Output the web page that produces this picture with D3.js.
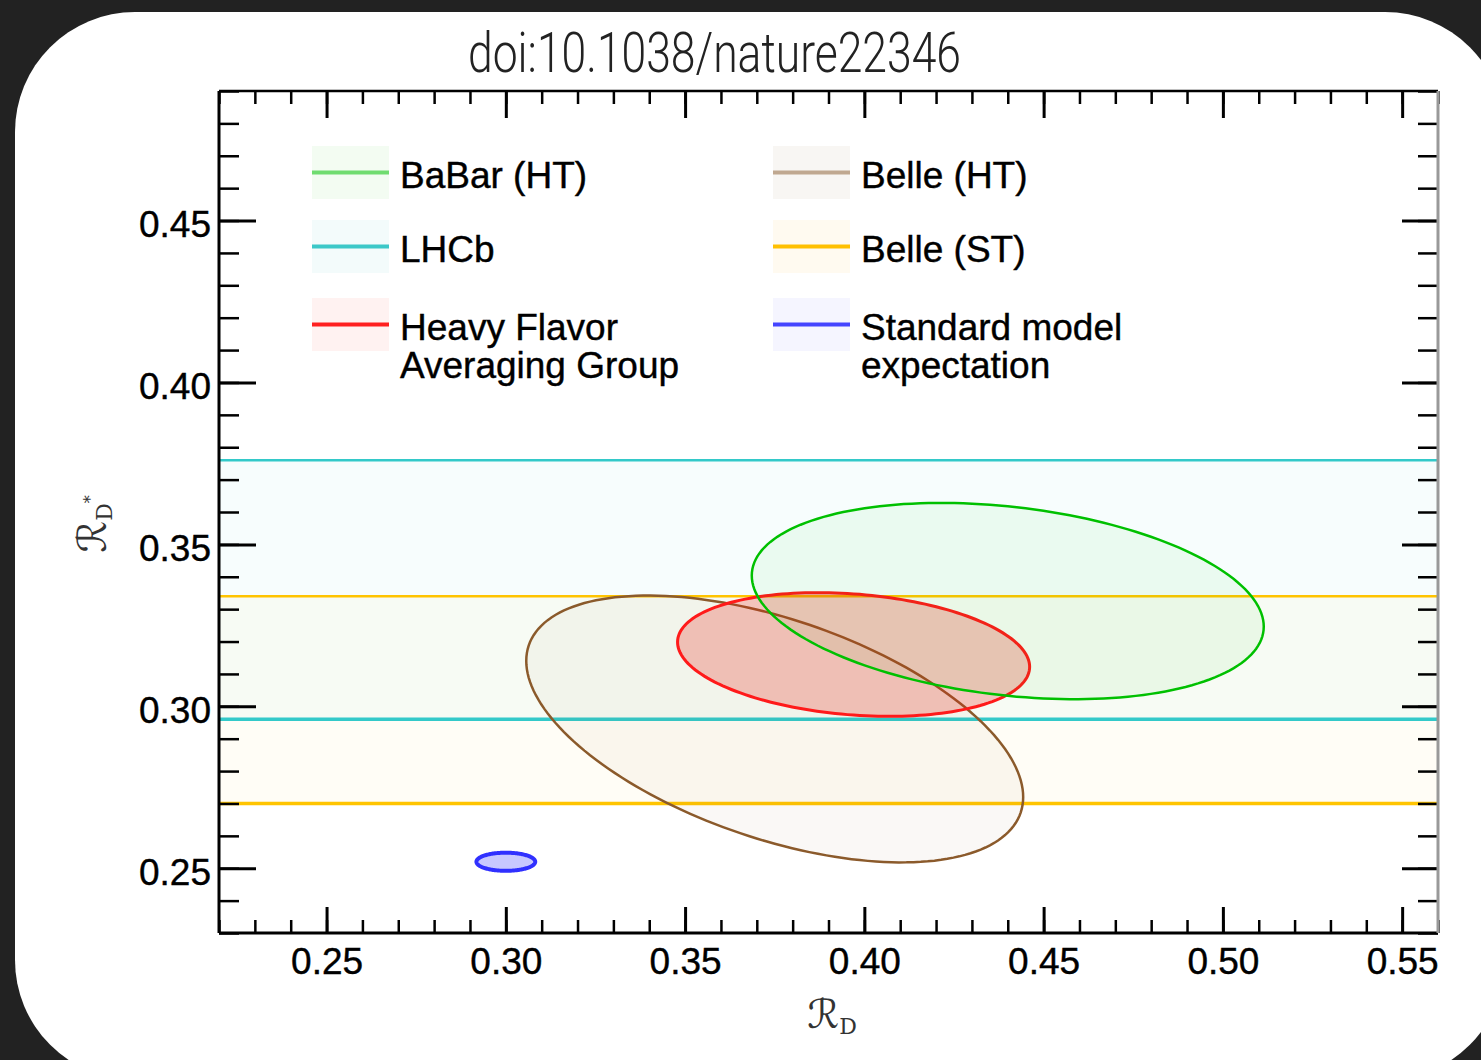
<!DOCTYPE html>
<html>
<head>
<meta charset="utf-8">
<script src="https://cdn.jsdelivr.net/npm/d3@7"></script>
<style>
  html, body { margin: 0; padding: 0; background: #222; }
  svg { display: block; }
  .axis text { font-family: "Liberation Sans", Arial, sans-serif; font-size: 37px; fill: #000; stroke: #000; stroke-width: 0.4px; }
  .legend text { font-family: "Liberation Sans", Arial, sans-serif; font-size: 37px; fill: #000; stroke: #000; stroke-width: 0.4px; }
</style>
</head>
<body>
<div id="chart"></div>
<script>
// ---- data ----
const xTickValues = [0.25, 0.30, 0.35, 0.40, 0.45, 0.50, 0.55];
const yTickValues = [0.25, 0.30, 0.35, 0.40, 0.45];

// horizontal 1-sigma bands (R(D*) only)
const bandNames = ['LHCb', 'Belle (ST)'];
const bandLow = [0.296, 0.270];
const bandHigh = [0.376, 0.334];

// 2D contours: centre, half extents and correlation
const ellipseNames = ['Belle (HT)', 'HFAG', 'BaBar (HT)', 'SM'];
const ellipseRD = [0.375, 0.397, 0.440, 0.300];
const ellipseRDstar = [0.293, 0.316, 0.3325, 0.252];
const ellipseHalfRD = [0.0693, 0.0491, 0.0714, 0.0082];
const ellipseHalfRDstar = [0.0412, 0.0191, 0.0303, 0.0028];
const ellipseRho = [-0.51, -0.20, -0.26, 0.0];

const legendKeys = ['BaBar (HT)', 'LHCb', 'HFAG', 'Belle (HT)', 'Belle (ST)', 'SM'];
const legendLabels = [
  ['BaBar (HT)'], ['LHCb'], ['Heavy Flavor', 'Averaging Group'],
  ['Belle (HT)'], ['Belle (ST)'], ['Standard model', 'expectation'],
];

// ---- styles ----
const styles = {
  'LHCb':       { stroke: '#33c9c9', fill: 'rgba(0,190,190,0.03)', legLine: '#3cc8c8', legFill: '#f3fbfb' },
  'Belle (ST)': { stroke: '#ffc400', fill: 'rgba(255,200,0,0.035)', legLine: '#ffc000', legFill: '#fffaf0' },
  'Belle (HT)': { stroke: '#8b5a2b', fill: 'rgba(139,90,43,0.045)', width: 2.5, legLine: '#c0a890', legFill: '#f8f6f3' },
  'HFAG':       { stroke: '#ff1a1a', fill: 'rgba(230,30,20,0.25)', width: 3, legLine: '#ff2020', legFill: '#fff2f1' },
  'BaBar (HT)': { stroke: '#00c000', fill: 'rgba(0,190,0,0.05)', width: 2.5, legLine: '#70dc70', legFill: '#f3fcf2' },
  'SM':         { stroke: '#3030ff', fill: '#c8c8ff', width: 4, legLine: '#4444ff', legFill: '#f5f5ff' },
};

const W = 1481, H = 1060;
const margin = { top: 91, right: 43, bottom: 127, left: 219 };
const width = W - margin.left - margin.right;
const height = H - margin.top - margin.bottom;

const svg = d3.select('#chart').append('svg')
  .attr('width', W)
  .attr('height', H);

svg.append('rect').attr('width', W).attr('height', H).attr('fill', '#222');
svg.append('rect')
  .attr('x', 15).attr('y', 12)
  .attr('width', 1490).attr('height', 1068)
  .attr('rx', 120).attr('ry', 120)
  .attr('fill', '#fff');

svg.append('text')
  .attr('x', 468).attr('y', 72)
  .attr('textLength', 493)
  .attr('lengthAdjust', 'spacingAndGlyphs')
  .style('font-family', 'Roboto, sans-serif')
  .style('font-weight', 300)
  .style('font-size', '55px')
  .style('fill', '#222')
  .text('doi:10.1038/nature22346');

const x = d3.scaleLinear().domain([0.22, 0.56]).range([0, width]);
const y = d3.scaleLinear().domain([0.23, 0.49]).range([height, 0]);

const g = svg.append('g').attr('transform', `translate(${margin.left},${margin.top})`);

g.append('clipPath').attr('id', 'plot-clip')
  .append('rect').attr('width', width).attr('height', height);

const plot = g.append('g').attr('clip-path', 'url(#plot-clip)');

// bands
const bands = bandNames.map((name, i) => ({ name, lo: bandLow[i], hi: bandHigh[i] }));

plot.selectAll('rect.band')
  .data(bands)
  .join('rect')
  .attr('class', 'band')
  .attr('x', 0)
  .attr('width', width)
  .attr('y', (d) => y(d.hi))
  .attr('height', (d) => y(d.lo) - y(d.hi))
  .attr('fill', (d) => styles[d.name].fill);

const bandEdges = bands.flatMap((d) => [
  { name: d.name, v: d.hi, lower: false },
  { name: d.name, v: d.lo, lower: true },
]);

plot.selectAll('line.band-edge')
  .data(bandEdges)
  .join('line')
  .attr('class', 'band-edge')
  .attr('x1', 0)
  .attr('x2', width)
  .attr('y1', (d) => y(d.v))
  .attr('y2', (d) => y(d.v))
  .attr('stroke', (d) => styles[d.name].stroke)
  .attr('stroke-width', (d) => (d.lower ? 3.5 : 2.5));

// ellipses
const ellipses = ellipseNames.map((name, i) => ({
  name,
  cx: ellipseRD[i],
  cy: ellipseRDstar[i],
  hx: ellipseHalfRD[i],
  hy: ellipseHalfRDstar[i],
  rho: ellipseRho[i],
}));

function contour(e) {
  const s = Math.sqrt(1 - e.rho * e.rho);
  return d3.range(0, 360, 2).map((deg) => {
    const t = (deg * Math.PI) / 180;
    return [
      e.cx + e.hx * Math.cos(t),
      e.cy + e.hy * (e.rho * Math.cos(t) + s * Math.sin(t)),
    ];
  });
}

const line = d3.line()
  .x((d) => x(d[0]))
  .y((d) => y(d[1]))
  .curve(d3.curveLinearClosed);

plot.selectAll('path.contour')
  .data(ellipses)
  .join('path')
  .attr('class', 'contour')
  .attr('d', (d) => line(contour(d)))
  .attr('fill', (d) => styles[d.name].fill)
  .attr('stroke', (d) => styles[d.name].stroke)
  .attr('stroke-width', (d) => styles[d.name].width);

// axes
const xMinor = x.ticks(34);
const yMinor = y.ticks(26);

function styleAxis(sel, w) {
  sel.select('.domain').remove();
  sel.selectAll('line').attr('stroke', '#000').attr('stroke-width', w);
}

g.append('g').attr('class', 'axis')
  .attr('transform', `translate(0,${height})`)
  .call(d3.axisBottom(x).tickValues(xMinor).tickSize(-13).tickSizeOuter(0).tickFormat(''))
  .call(styleAxis, 2.5);

g.append('g').attr('class', 'axis')
  .attr('transform', `translate(0,${height})`)
  .call(d3.axisBottom(x).tickValues(xTickValues).tickSize(-26).tickSizeOuter(0)
    .tickPadding(15).tickFormat(d3.format('.2f')))
  .call(styleAxis, 3);

g.append('g').attr('class', 'axis')
  .call(d3.axisTop(x).tickValues(xMinor).tickSize(-13).tickSizeOuter(0).tickFormat(''))
  .call(styleAxis, 2.5);

g.append('g').attr('class', 'axis')
  .call(d3.axisTop(x).tickValues(xTickValues).tickSize(-27).tickSizeOuter(0).tickFormat(''))
  .call(styleAxis, 3);

g.append('g').attr('class', 'axis')
  .call(d3.axisLeft(y).tickValues(yMinor).tickSize(-20).tickSizeOuter(0).tickFormat(''))
  .call(styleAxis, 2.5);

const yAxisG = g.append('g').attr('class', 'axis')
  .call(d3.axisLeft(y).tickValues(yTickValues).tickSize(-37).tickSizeOuter(0)
    .tickPadding(8).tickFormat(d3.format('.2f')))
  .call(styleAxis, 3);
yAxisG.selectAll('text').attr('dy', '0.43em');

g.append('g').attr('class', 'axis')
  .attr('transform', `translate(${width},0)`)
  .call(d3.axisRight(y).tickValues(yMinor).tickSize(-20).tickSizeOuter(0).tickFormat(''))
  .call(styleAxis, 2.5);

g.append('g').attr('class', 'axis')
  .attr('transform', `translate(${width},0)`)
  .call(d3.axisRight(y).tickValues(yTickValues).tickSize(-36).tickSizeOuter(0).tickFormat(''))
  .call(styleAxis, 3);

// frame
g.append('line').attr('x1', 0).attr('x2', width).attr('y1', 0).attr('y2', 0)
  .attr('stroke', '#000').attr('stroke-width', 2.5);
g.append('line').attr('x1', 0).attr('x2', width).attr('y1', height).attr('y2', height)
  .attr('stroke', '#000').attr('stroke-width', 3);
g.append('line').attr('x1', 0).attr('x2', 0).attr('y1', 0).attr('y2', height)
  .attr('stroke', '#000').attr('stroke-width', 3);
g.append('line').attr('x1', width).attr('x2', width).attr('y1', 0).attr('y2', height)
  .attr('stroke', '#999').attr('stroke-width', 3);

// axis titles
const mathFont = '"DejaVu Serif", "DejaVu Sans", serif';

const xTitle = svg.append('text')
  .attr('x', 832).attr('y', 1028)
  .attr('text-anchor', 'middle')
  .style('font-family', mathFont)
  .style('font-size', '40px')
  .style('fill', '#333');
xTitle.append('tspan').text('ℛ');
xTitle.append('tspan').attr('font-size', '22px').attr('dy', 6).text('D');

const yTitle = svg.append('text')
  .attr('transform', 'translate(106,524) rotate(-90)')
  .attr('text-anchor', 'middle')
  .style('font-family', mathFont)
  .style('font-size', '40px')
  .style('fill', '#333');
yTitle.append('tspan').text('ℛ');
yTitle.append('tspan').attr('font-size', '22px').attr('dy', 6).text('D');
yTitle.append('tspan').attr('font-size', '16px').attr('dy', -16).text('*');

// legend
const legendCols = [312, 773];
const legendRows = [146, 220, 298];
const swW = 77, swH = 53;

const legend = svg.append('g').attr('class', 'legend');
const items = legend.selectAll('g.item')
  .data(legendKeys.map((k, i) => ({ key: k, lines: legendLabels[i], i })))
  .join('g')
  .attr('class', 'item')
  .attr('transform', (d) => `translate(${legendCols[Math.floor(d.i / 3)]},${legendRows[d.i % 3]})`);

items.append('rect')
  .attr('width', swW).attr('height', swH)
  .attr('fill', (d) => styles[d.key].legFill);

items.append('line')
  .attr('x1', 0).attr('x2', swW)
  .attr('y1', swH / 2).attr('y2', swH / 2)
  .attr('stroke', (d) => styles[d.key].legLine)
  .attr('stroke-width', 4);

items.append('text')
  .attr('x', swW + 11)
  .attr('y', swH / 2 + 15)
  .selectAll('tspan')
  .data((d) => d.lines)
  .join('tspan')
  .attr('x', swW + 11)
  .attr('dy', (d, i) => (i === 0 ? 0 : 38))
  .text((d) => d);
</script>
</body>
</html>
